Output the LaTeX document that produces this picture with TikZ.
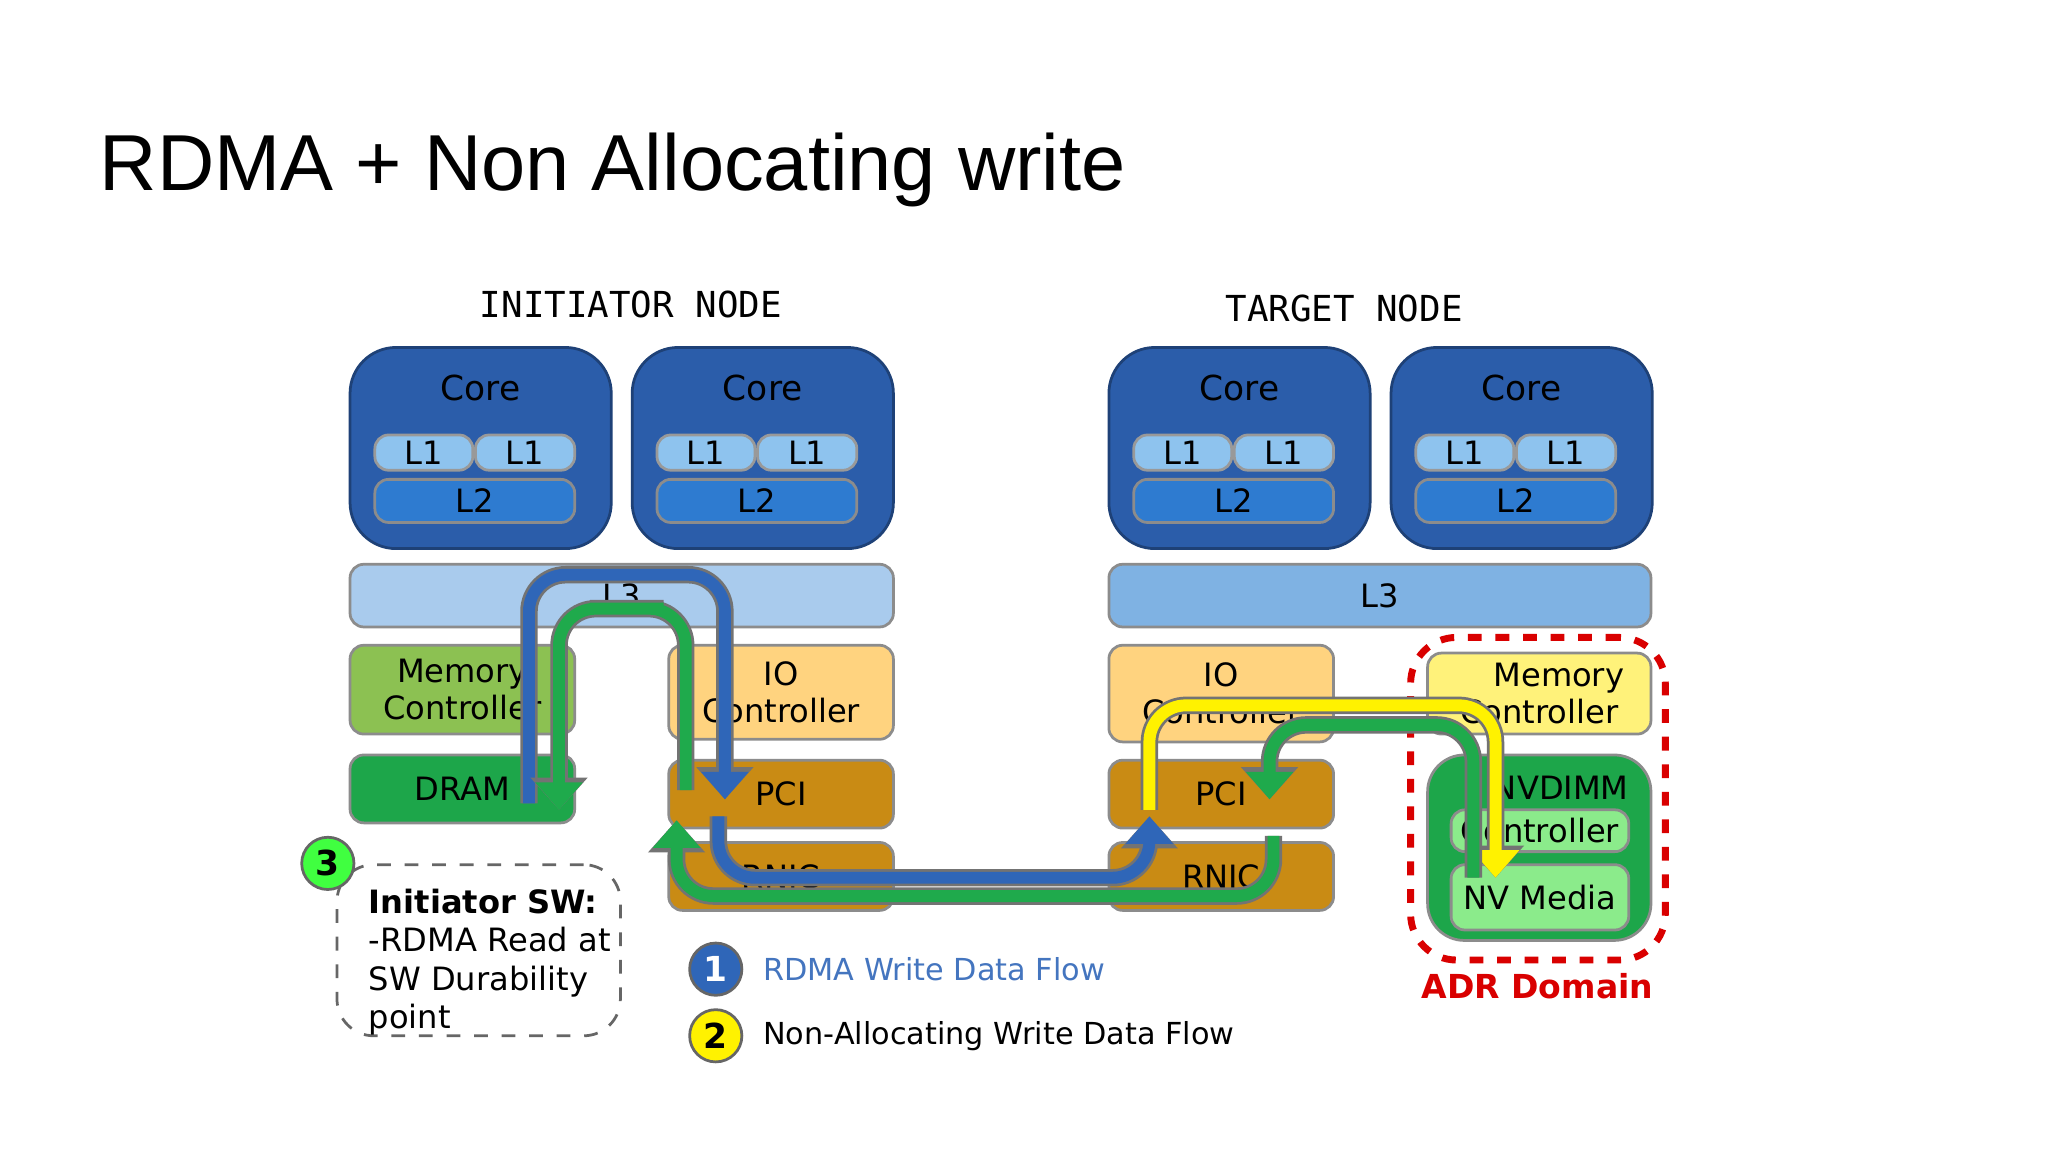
\documentclass[tikz,border=0pt]{standalone}
\usepackage{fontspec}
\setmainfont{DejaVu Sans}
\newfontfamily\titlef{Liberation Sans}
\newfontfamily\monof{DejaVu Sans Mono}
\usetikzlibrary{arrows.meta}
\definecolor{coreblue}{HTML}{2B5DAA}
\definecolor{lone}{HTML}{8EC3EE}
\definecolor{ltwo}{HTML}{2E7BD0}
\definecolor{lthreeA}{HTML}{A9CBED}
\definecolor{lthreeB}{HTML}{7FB2E3}
\definecolor{mcgreen}{HTML}{8CC152}
\definecolor{ioorange}{HTML}{FFD37F}
\definecolor{dramgreen}{HTML}{1DA64A}
\definecolor{pcibrown}{HTML}{C98B14}
\definecolor{mcyellow}{HTML}{FFF27A}
\definecolor{ctrlgreen}{HTML}{8BEB8B}
\definecolor{flowblue}{HTML}{2F66B8}
\definecolor{flowgreen}{HTML}{1FAA4C}
\definecolor{flowyellow}{HTML}{FFF200}
\tikzset{
 box/.style={draw=black!45,line width=0.6pt,rounded corners=3pt,inner sep=0pt,align=center,font=\fontsize{7}{8}\selectfont},
 core/.style={box,fill=coreblue,rounded corners=10pt,minimum width=2cm,minimum height=1.54cm,draw=coreblue!70!black},
 lbox/.style={box,fill=lone,minimum height=0.27cm,draw=black!40},
 flow/.style={line width=2.6pt,rounded corners=8pt,-{Triangle[length=6pt,width=10pt]}},
 flowout/.style={line width=3.8pt,rounded corners=8pt,draw=black!55,-{Triangle[length=7pt,width=12pt]}},
 num/.style={circle,draw=black!60,line width=0.6pt,minimum size=0.4cm,inner sep=0pt,font=\bfseries\fontsize{7.5}{9}\selectfont},
}
\newcommand\mkcore[3]{%
 \node[core] (#1) at ({#2+1},{-#3-0.77}) {};
 \node[font=\fontsize{7.5}{9}\selectfont] (#1t) at ({#2+1},{-#3-0.31}) {Core};
 \node[lbox,minimum width=0.75cm] (#1a) at ({#2+0.565},{-#3-0.805}) {L1};
 \node[lbox,minimum width=0.76cm] (#1b) at ({#2+1.34},{-#3-0.805}) {L1};
 \node[box,fill=ltwo,minimum width=1.53cm,minimum height=0.33cm] (#1c) at ({#2+0.955},{-#3-1.175}) {L2};}
\begin{document}
\begin{tikzpicture}
\useasboundingbox[fill=white] (0,0) rectangle (15.68,-8.82);
\node[anchor=west,font=\titlef\fontsize{17.3}{21}\selectfont] (title) at (0.64,-1.3) {RDMA + Non Allocating write};
\node[font=\monof\fontsize{7.8}{9}\selectfont] (init) at (4.83,-2.33) {INITIATOR NODE};
\node[font=\monof\fontsize{7.8}{9}\selectfont] (targ) at (10.29,-2.36) {TARGET NODE};
\mkcore{ca}{2.68}{2.66}
\mkcore{cb}{4.84}{2.66}
\mkcore{cc}{8.49}{2.66}
\mkcore{cd}{10.65}{2.66}
% initiator
\node[box,fill=lthreeA,minimum width=4.16cm,minimum height=0.48cm] (l3a) at (4.76,-4.56) {L3};
\node[box,fill=mcgreen,minimum width=1.72cm,minimum height=0.68cm] (mca) at (3.54,-5.28) {Memory\\Controller};
\node[box,fill=ioorange,minimum width=1.72cm,minimum height=0.72cm] (ioa) at (5.98,-5.30) {IO\\Controller};
\node[box,fill=dramgreen,minimum width=1.72cm,minimum height=0.52cm] (dram) at (3.54,-6.04) {DRAM};
\node[box,fill=pcibrown,minimum width=1.72cm,minimum height=0.52cm] (pcia) at (5.98,-6.08) {PCI};
\node[box,fill=pcibrown,minimum width=1.72cm,minimum height=0.52cm] (rnica) at (5.98,-6.71) {RNIC};
% target
\node[box,fill=lthreeB,minimum width=4.15cm,minimum height=0.48cm] (l3b) at (10.565,-4.56) {L3};
\node[box,fill=ioorange,minimum width=1.72cm,minimum height=0.74cm] (iob) at (9.35,-5.31) {IO\\Controller};
\node[box,fill=pcibrown,minimum width=1.72cm,minimum height=0.52cm] (pcib) at (9.35,-6.08) {PCI};
\node[box,fill=pcibrown,minimum width=1.72cm,minimum height=0.52cm] (rnicb) at (9.35,-6.71) {RNIC};
\node[box,fill=mcyellow,minimum width=1.71cm,minimum height=0.62cm] (mcb) at (11.785,-5.31) {\hspace*{3mm}Memory\\Controller};
\node[box,fill=dramgreen,minimum width=1.71cm,minimum height=1.42cm,rounded corners=8pt] (nvd) at (11.785,-6.49) {};
\node[font=\fontsize{7}{8}\selectfont] (nvdt) at (11.95,-6.03) {NVDIMM};
\node[box,fill=ctrlgreen,minimum width=1.36cm,minimum height=0.32cm] (nctl) at (11.79,-6.36) {Controller};
\node[box,fill=ctrlgreen,minimum width=1.36cm,minimum height=0.50cm] (nvm) at (11.79,-6.87) {NV Media};
\node[draw=red!85!black,dashed,line width=1.5pt,rounded corners=10pt,minimum width=1.95cm,minimum height=2.47cm] (adr) at (11.775,-6.115) {};
\node[text=red!85!black,font=\bfseries\fontsize{7.2}{9}\selectfont] (adrt) at (11.77,-7.55) {ADR Domain};
% flows
\coordinate (b1) at (4.05,-6.15); \coordinate (b2) at (5.55,-6.12);
\coordinate (b3) at (5.50,-6.25); \coordinate (b4) at (8.80,-6.25);
\coordinate (g2) at (5.18,-6.28);
\coordinate (g3) at (5.25,-6.05); \coordinate (g4) at (4.28,-6.20);
\coordinate (y1) at (8.80,-6.20); \coordinate (y2) at (11.45,-6.72);
\coordinate (g5) at (11.28,-6.72); \coordinate (g6) at (9.72,-6.12);
\coordinate (g7) at (9.75,-6.40);
\foreach \s/\c in {flowout/black!55,flow/flowblue}{\draw[\s,draw=\c] (b1) |- (4.80,-4.40) -| (b2);}
\foreach \s/\c in {flowout/black!55,flow/flowgreen}{\draw[\s,draw=\c] (g3) |- (4.8,-4.66) -| (g4);}
\foreach \s/\c in {flowout/black!55,flow/flowblue}{\draw[\s,draw=\c] (b3) |- (7.0,-6.72) -| (b4);}
\foreach \s/\c in {flowout/black!55,flow/flowyellow}{\draw[\s,draw=\c] (y1) |- (10.3,-5.40) -| (y2);}
\foreach \s/\c in {flowout/black!55,flow/flowgreen}{\draw[\s,draw=\c] (g5) |- (10.5,-5.55) -| (g6);}
\foreach \s/\c in {flowout/black!55,flow/flowgreen}{\draw[\s,draw=\c] (g7) |- (7.0,-6.86) -| (g2);}
% notes
\node[draw=black!60,dashed,line width=0.6pt,rounded corners=8pt,minimum width=2.17cm,minimum height=1.31cm] (sw) at (3.665,-7.275) {};
\node[anchor=north west,align=left,font=\fontsize{7}{8.4}\selectfont] (swt) at (2.70,-6.68) {\textbf{Initiator SW:}\\-RDMA Read at\\SW Durability\\point};
\node[num,fill=green!75] (n3) at (2.51,-6.61) {3};
\node[num,fill=flowblue,text=white] (n1) at (5.48,-7.42) {1};
\node[anchor=west,text=flowblue!90,font=\fontsize{6.6}{8}\selectfont] (l1) at (5.72,-7.42) {RDMA Write Data Flow};
\node[num,fill=flowyellow] (n2) at (5.48,-7.93) {2};
\node[anchor=west,font=\fontsize{6.6}{8}\selectfont] (l2) at (5.72,-7.93) {Non-Allocating Write Data Flow};
\end{tikzpicture}
\end{document}
